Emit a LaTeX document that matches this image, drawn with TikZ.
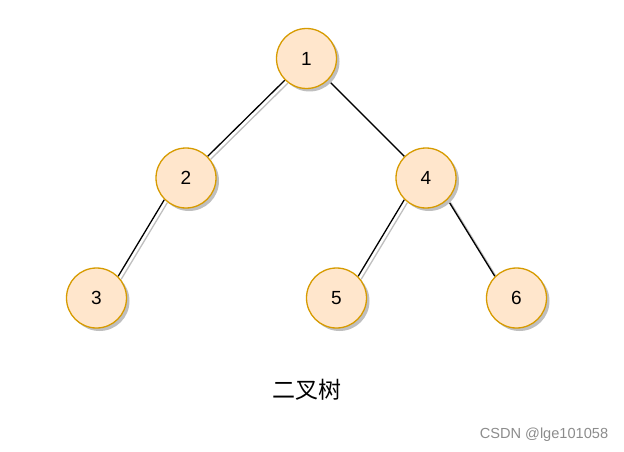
\documentclass[tikz,border=0pt]{standalone}
\usepackage{fontspec}
\setmainfont{Liberation Sans}
\newfontfamily\cjk{Noto Sans CJK SC}
\usetikzlibrary{shadows,backgrounds}
\definecolor{nodefill}{HTML}{FFE6CC}
\definecolor{nodeline}{HTML}{D79B00}
\tikzset{
  treenode/.style={circle,draw=nodeline,fill=nodefill,line width=1.3pt,minimum size=60pt,inner sep=0pt,
    font=\fontsize{19}{19}\selectfont,
    drop shadow={shadow xshift=3pt,shadow yshift=-3pt,fill=black!25,opacity=1}},
  treeedge/.style={line width=1.3pt},
  edgeshadow/.style={line width=1.3pt,black!25,transform canvas={xshift=3pt,yshift=-3pt}}
}
\begin{document}
\begin{tikzpicture}[x=1pt,y=-1pt]
\useasboundingbox (0,0) rectangle (624,452);
\node[treenode] (n1) at (306.5,58.5) {1};
\node[treenode] (n2) at (186,178) {2};
\node[treenode] (n4) at (426,178) {4};
\node[treenode] (n3) at (96.5,298) {3};
\node[treenode] (n5) at (336.5,298) {5};
\node[treenode] (n6) at (516.5,298) {6};
\begin{scope}[on background layer]
\foreach \a/\b in {n1/n2,n2/n3,n4/n5}{
  \draw[edgeshadow] (\a.south west) -- (\b.north east);
  \draw[treeedge] (\a.south west) -- (\b.north east);
}
\foreach \a/\b in {n1/n4,n4/n6}{
  \draw[edgeshadow] (\a.south east) -- (\b.north west);
  \draw[treeedge] (\a.south east) -- (\b.north west);
}
\end{scope}
\node[font=\cjk\fontsize{23}{23}\selectfont] (title) at (306.5,390) {二叉树};
\node[font=\fontsize{14.6}{14.6}\selectfont,text=black!45] (mark) at (544,435) {CSDN @lge101058};
\end{tikzpicture}
\end{document}
